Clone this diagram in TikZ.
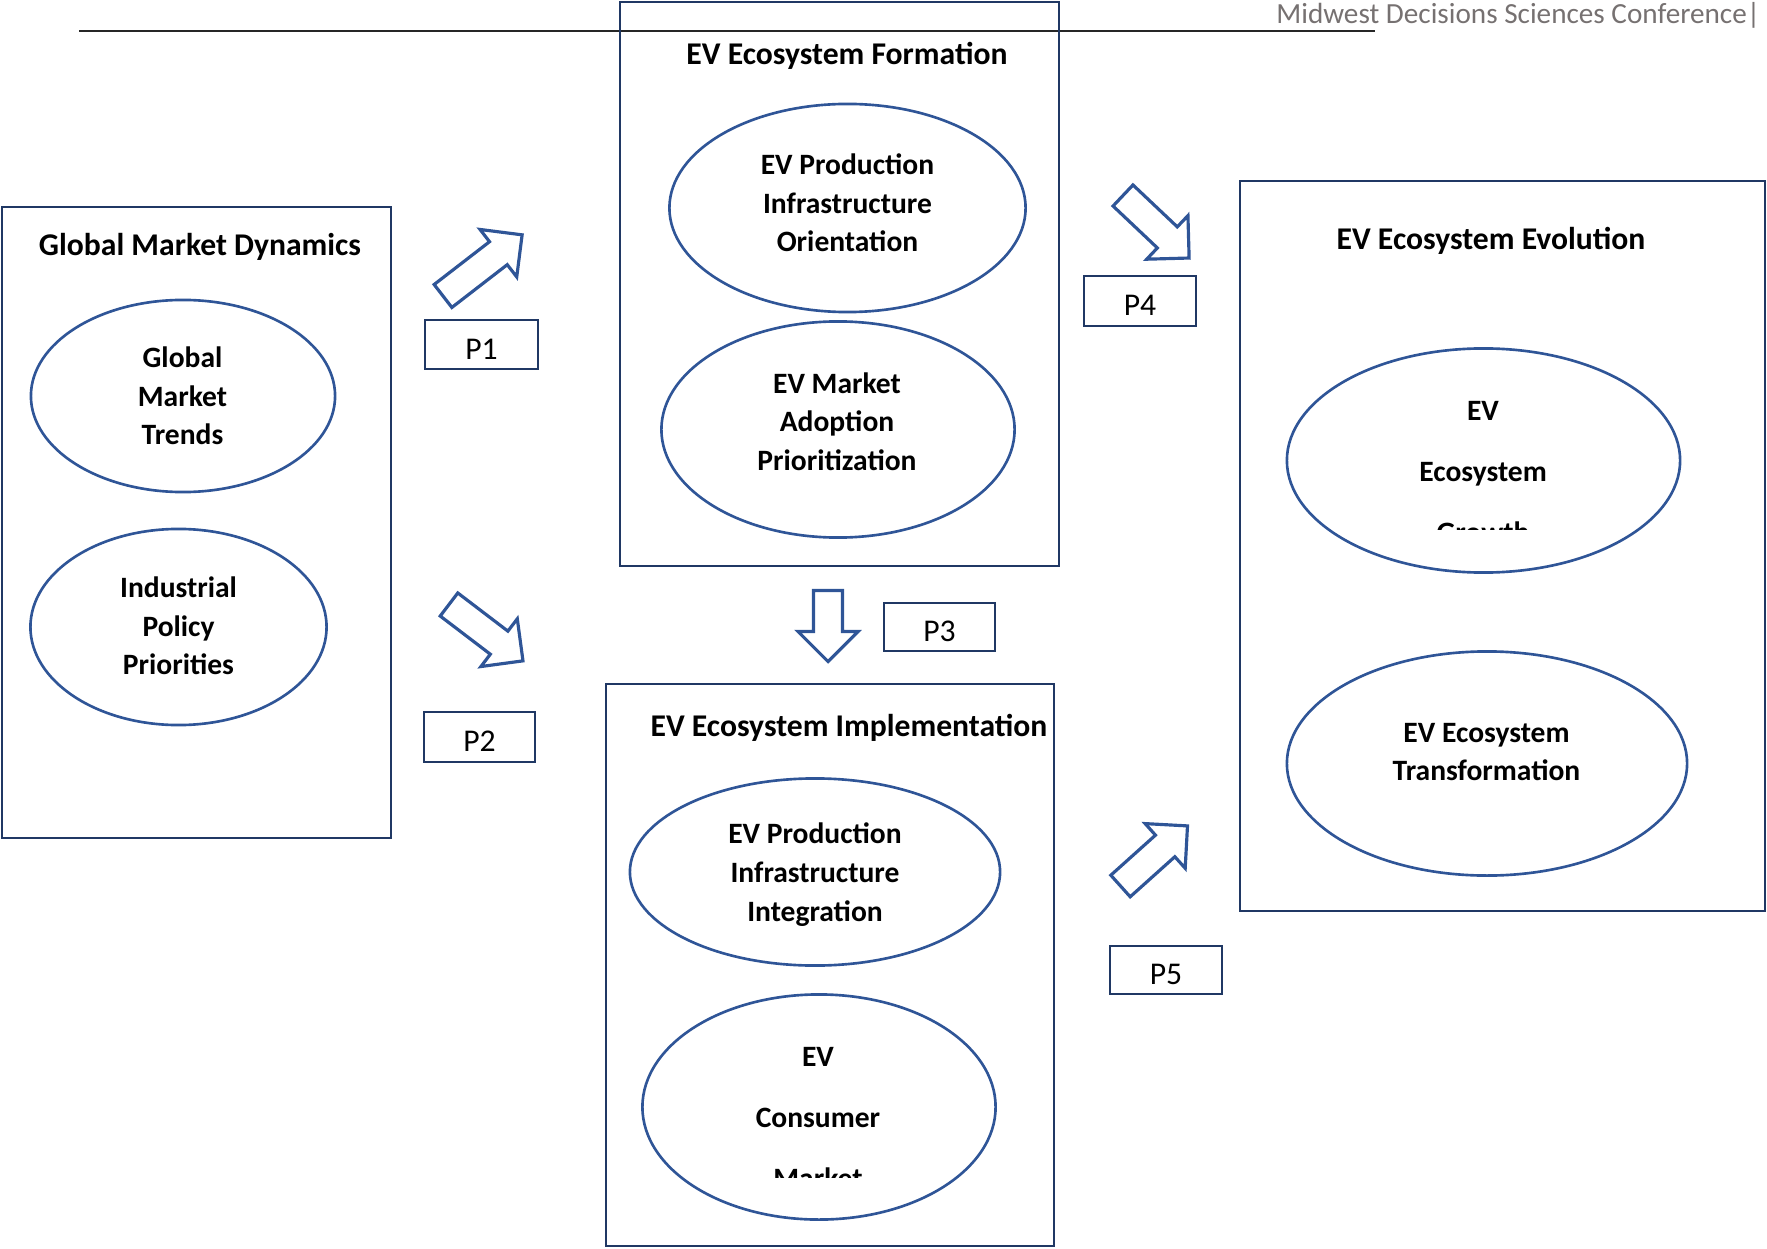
\documentclass[tikz,border=0pt]{standalone}
\usepackage{fontspec}
\setmainfont{Carlito}
\usetikzlibrary{shapes.geometric}

\definecolor{ovalblue}{RGB}{47,85,151}
\definecolor{framenavy}{RGB}{32,56,100}
\definecolor{headgray}{RGB}{118,113,113}

\tikzset{
  frame/.style={draw=framenavy, line width=0.7pt, inner sep=0pt},
  oval/.style={ellipse, draw=ovalblue, line width=0.75pt, inner sep=0pt},
  boxtitle/.style={font=\fontsize{9}{11}\selectfont\bfseries, anchor=base,
    inner sep=0pt},
  ovaltext/.style={font=\fontsize{8.4}{11}\selectfont\bfseries, align=center,
    inner sep=0pt},
  spreadtext/.style={font=\fontsize{8.4}{17.3}\selectfont\bfseries,
    align=center, inner sep=0pt},
  pbox/.style={draw=framenavy, line width=0.8pt, text height=8.4pt,
    font=\fontsize{9}{11}\selectfont, inner sep=0pt},
  hollow/.style={draw=ovalblue, line width=0.9pt, line join=miter}
}

% block arrow: tail centre, angle, length
\newcommand{\hollowarrow}[3]{
  \begin{scope}[shift={#1}, rotate=#2]
    \draw [hollow] (0,-14.5) -- ({#3-30},-14.5) -- ({#3-30},-30) -- (#3,0)
      -- ({#3-30},30) -- ({#3-30},14.5) -- (0,14.5) -- cycle;
  \end{scope}
}

\begin{document}
\begin{tikzpicture}[x=0.01cm, y=-0.01cm]
    \useasboundingbox (0,0) rectangle (1767,1249);

    % page header
    \coordinate (hl) at (79, 31);
    \coordinate (hr) at (1375, 31);
    \draw [line width=0.6pt, black!85] (hl) -- (hr);
    \node [anchor=base east, inner sep=0pt, text=headgray,
    font=\fontsize{8.3}{10}\selectfont] (header) at (1761, 24)
    {Midwest Decisions Sciences Conference|};

    % four frames
    \node [frame, minimum width=3.89cm, minimum height=6.31cm]
    (dynamics) at (196.5, 522.5) {};
    \node [frame, minimum width=4.39cm, minimum height=5.64cm]
    (formation) at (839.5, 284) {};
    \node [frame, minimum width=4.48cm, minimum height=5.62cm]
    (implementation) at (830, 965) {};
    \node [frame, minimum width=5.25cm, minimum height=7.30cm]
    (evolution) at (1502.5, 546) {};

    \node [boxtitle] (dynamicsT) at (200, 256) {Global Market Dynamics};
    \node [boxtitle] (formationT) at (847, 65) {EV Ecosystem Formation};
    \node [boxtitle] (implementationT) at (849, 736)
    {EV Ecosystem Implementation};
    \node [boxtitle] (evolutionT) at (1491, 250) {EV Ecosystem Evolution};

    % ellipses
    \node [oval, minimum width=3.04cm, minimum height=1.92cm]
    (trends) at (183, 396) {};
    \node [oval, minimum width=2.96cm, minimum height=1.96cm]
    (policy) at (178.5, 627) {};
    \node [oval, minimum width=3.56cm, minimum height=2.08cm]
    (orientation) at (847.5, 208) {};
    \node [oval, minimum width=3.53cm, minimum height=2.16cm]
    (adoption) at (838, 429.5) {};
    \node [oval, minimum width=3.70cm, minimum height=1.87cm]
    (integration) at (815, 872) {};
    \node [oval, minimum width=3.53cm, minimum height=2.25cm]
    (consumer) at (819, 1107) {};
    \node [oval, minimum width=3.93cm, minimum height=2.24cm]
    (growth) at (1483.5, 460.5) {};
    \node [oval, minimum width=4.00cm, minimum height=2.24cm]
    (transformation) at (1487, 763.5) {};

    \node [ovaltext] (trendsT) at (182.5, 396)
    {Global\\Market\\Trends};
    \node [ovaltext] (policyT) at (178.5, 626)
    {Industrial\\Policy\\Priorities};
    \node [ovaltext] (orientationT) at (847.5, 203)
    {EV Production\\Infrastructure\\Orientation};
    \node [ovaltext] (adoptionT) at (837, 421.5)
    {EV Market\\Adoption\\Prioritization};
    \node [ovaltext] (integrationT) at (815, 874.5)
    {EV Production\\Infrastructure\\Integration};
    \node [ovaltext] (transformationT) at (1486.5, 752)
    {EV Ecosystem\\Transformation};

    % text cut off at the bottom
    \begin{scope}
      \clip (1300, 380) rectangle (1670, 529);
      \node [spreadtext] (growthT) at (1483, 472)
      {EV\\Ecosystem\\Growth};
    \end{scope}
    \begin{scope}
      \clip (640, 1020) rectangle (1000, 1177);
      \node [spreadtext] (consumerT) at (818, 1118)
      {EV\\Consumer\\Market};
    \end{scope}

    % proposition labels
    \node [pbox, minimum width=1.13cm, minimum height=0.49cm]
    (p1) at (481.5, 344.5) {P1};
    \node [pbox, minimum width=1.11cm, minimum height=0.50cm]
    (p2) at (479.5, 737) {P2};
    \node [pbox, minimum width=1.11cm, minimum height=0.48cm]
    (p3) at (939.5, 627) {P3};
    \node [pbox, minimum width=1.12cm, minimum height=0.50cm]
    (p4) at (1140, 301) {P4};
    \node [pbox, minimum width=1.12cm, minimum height=0.48cm]
    (p5) at (1166, 970) {P5};

    % block arrows
    \hollowarrow{(443, 296)}{37.7}{100}
    \hollowarrow{(449, 604.5)}{-37.3}{93}
    \hollowarrow{(828, 590.5)}{-90}{71}
    \hollowarrow{(1123, 195.5)}{-43.4}{91}
    \hollowarrow{(1120.5, 886)}{41.9}{90}
  \end{tikzpicture}
\end{document}
